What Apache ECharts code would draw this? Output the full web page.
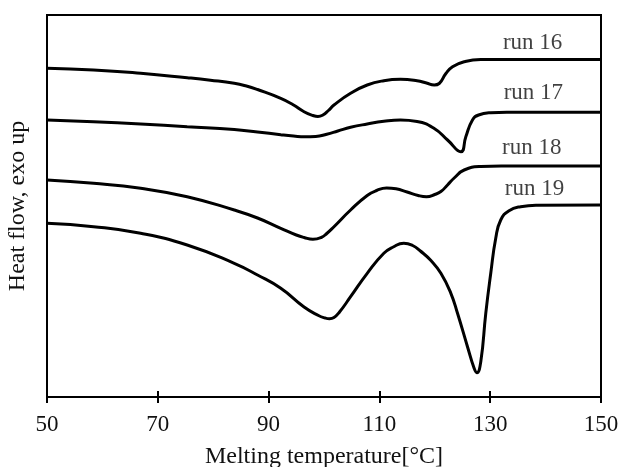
<!DOCTYPE html>
<html>
<head>
<meta charset="utf-8">
<script src="https://cdn.jsdelivr.net/npm/echarts@6/dist/echarts.min.js"></script>
<style>html,body{margin:0;padding:0;background:#fff;}#c{width:619px;height:467px;}</style>
</head>
<body>
<div id="c"></div>
<script>
// Melting temperature (°C) and heat flow (arbitrary units, exo up)
const run16 = [[50,328.7],[58.4,327],[66.9,323.7],[75.3,319.3],[79.5,316.8],[83.8,313.7],[86,311],[88,307.5],[92.2,298.7],[94.5,292],[96.4,285.3],[98,281.5],[98.9,280.5],[99.8,282],[100.8,286.5],[101.8,292],[104.8,303.7],[107.8,312],[110.8,316.3],[113.8,317.7],[116.8,316.3],[118.5,314],[119.9,312],[120.8,313.5],[122,323.5],[123.2,330.3],[125.3,335.3],[128.3,337.5],[150,337.5]];
const run17 = [[50,277],[58.4,275.3],[66.9,273],[75.3,270.3],[83.8,267.5],[88,265],[92.2,262.3],[94.5,261],[96.5,260.2],[98.5,260.5],[100.5,262.8],[102.5,266],[104.8,269.7],[107.8,273],[110.8,275.7],[113.8,277],[116.8,275.5],[119.9,268.5],[122.3,257],[124.7,245.3],[125.6,260.3],[126.8,277],[127.9,282],[130.1,284.3],[133,284.7],[150,284.7]];
const run18 = [[50,217],[58.4,213.7],[66.9,208.7],[75.3,200.3],[83.8,187],[88,179],[92.2,168.7],[95,162],[96.4,159.5],[98,157.7],[99.5,159.5],[100.5,163.5],[101.8,170.3],[104.8,187],[107.8,201.5],[109.5,206.5],[111.3,209],[113,208.2],[115,205],[117,201.5],[118.5,200.3],[120,202.5],[121.1,205.5],[122.3,212],[123.5,219],[125.3,227],[128.3,230.5],[132,231],[150,231]];
const run19 = [[50,173.7],[58.4,170.3],[66.9,163.7],[75.3,152],[83.8,133.7],[88,122],[92.2,108.7],[96.4,90],[99,81.5],[100.2,79],[101,78.3],[101.8,79.5],[102.8,85],[104.8,100.3],[107.8,123.7],[110.8,143.7],[112.5,150],[114.4,153.7],[116,151.5],[117.4,146],[119.3,136.5],[121.1,123.7],[122.9,103.7],[124.1,83.7],[125.9,50.3],[127.1,28.7],[127.6,24.3],[128.3,35.3],[129.2,83.7],[130.1,123.7],[131,158.7],[131.9,177],[133.4,186.3],[135.5,190.3],[138.5,191.7],[150,192]];
const seriesNames = ['run 16','run 17','run 18','run 19'];
const xTicks = [50,70,90,110,130,150];

const FONT = "'Liberation Serif','Times New Roman',serif";
const labelAnchors = [[137.65,354],[137.8,304.5],[137.5,249],[138,208]];
const allRuns = [run16, run17, run18, run19];

const chart = echarts.init(document.getElementById('c'), null, {renderer:'canvas'});
const series = allRuns.map((d,i)=>({
  type:'line',name:seriesNames[i],data:d,smooth:0.5,showSymbol:false,
  lineStyle:{color:'#000',width:3},z:2
}));
series.push({
  type:'scatter',name:'labels',symbol:'circle',symbolSize:1,
  itemStyle:{color:'rgba(0,0,0,0)'},
  data:labelAnchors.map((p,i)=>({value:p,name:seriesNames[i]})),
  label:{show:true,position:'inside',formatter:p=>p.name,fontFamily:FONT,fontSize:23,color:'#111'},
  z:3
});
chart.setOption({
  animation:false,
  backgroundColor:'#fff',
  grid:{left:47,right:18,top:15,bottom:70,outerBoundsMode:'none',containLabel:false,show:true,borderColor:'#000',borderWidth:2,backgroundColor:'transparent'},
  xAxis:[{
    type:'value',min:xTicks[0],max:xTicks[xTicks.length-1],interval:20,
    name:'Melting temperature[°C]',nameLocation:'middle',nameGap:48,
    nameTextStyle:{fontFamily:FONT,fontSize:24,color:'#111'},
    axisLine:{show:true,lineStyle:{color:'#000',width:2}},
    axisTick:{show:true,inside:false,length:6,lineStyle:{color:'#000',width:2}},
    axisLabel:{fontFamily:FONT,fontSize:23,color:'#111',margin:16},
    splitLine:{show:false}
  },{
    type:'value',min:xTicks[0],max:xTicks[xTicks.length-1],interval:20,position:'bottom',
    axisLine:{show:false},
    axisTick:{show:true,inside:true,length:6,lineStyle:{color:'#000',width:2}},
    axisLabel:{show:false},splitLine:{show:false}
  }],
  yAxis:{
    type:'value',min:0,max:382,
    name:'Heat flow, exo up',nameLocation:'middle',nameGap:17,
    nameTextStyle:{fontFamily:FONT,fontSize:24,color:'#111'},
    axisLine:{show:true,lineStyle:{color:'#000',width:2}},
    axisTick:{show:false},axisLabel:{show:false},splitLine:{show:false}
  },
  series: series
});
</script>
</body>
</html>
